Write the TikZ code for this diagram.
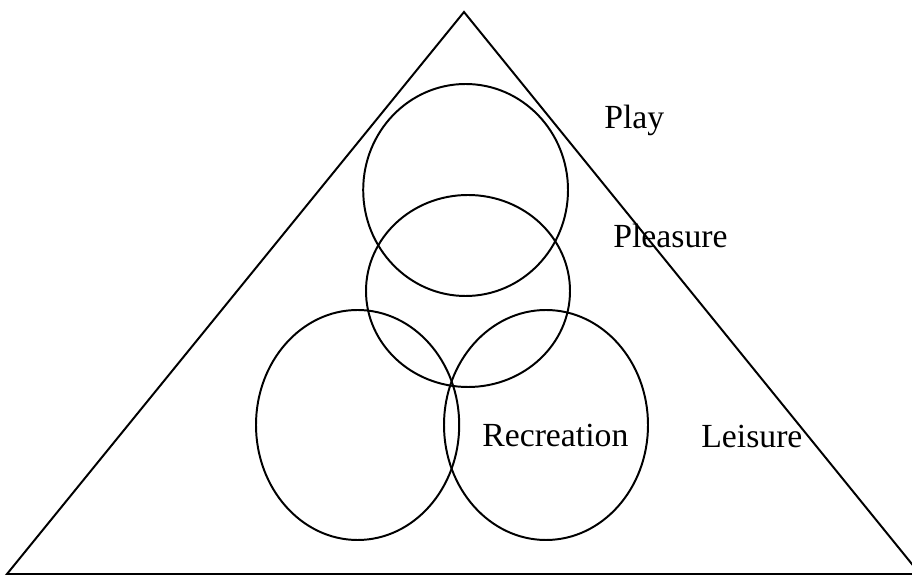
\documentclass[tikz,border=0pt]{standalone}
\usepackage{fontspec}
\setmainfont{Liberation Serif}
\usepackage{xcolor}
\usepackage{tikz}
\definecolor{LPLine}{HTML}{000000}

\begin{document}
\begin{tikzpicture}[x=1cm,y=1cm]
\path[use as bounding box] (0,0) rectangle (22.80,14.375);
\draw[LPLine,line width=1.4pt] (0.175,0.025) -- (11.60,14.075) -- (23.00,0.025) -- cycle;
\draw[LPLine,line width=1.4pt] (11.64,9.625) ellipse [x radius=2.56,y radius=2.65];
\draw[LPLine,line width=1.4pt] (11.70,7.10) ellipse [x radius=2.55,y radius=2.40];
\draw[LPLine,line width=1.4pt] (8.94,3.75) ellipse [x radius=2.54,y radius=2.875];
\draw[LPLine,line width=1.4pt] (13.65,3.75) ellipse [x radius=2.55,y radius=2.875];
\node (play) [anchor=base west,inner sep=0pt] at (15.10,11.15) {\fontsize{24}{28}\selectfont Play};
\node (pleasure) [anchor=base west,inner sep=0pt] at (15.325,8.175) {\fontsize{24}{28}\selectfont Pleasure};
\node (recreation) [anchor=base west,inner sep=0pt] at (12.05,3.20) {\fontsize{24}{28}\selectfont Recreation};
\node (leisure) [anchor=base west,inner sep=0pt] at (17.525,3.175) {\fontsize{24}{28}\selectfont Leisure};
\end{tikzpicture}
\end{document}
